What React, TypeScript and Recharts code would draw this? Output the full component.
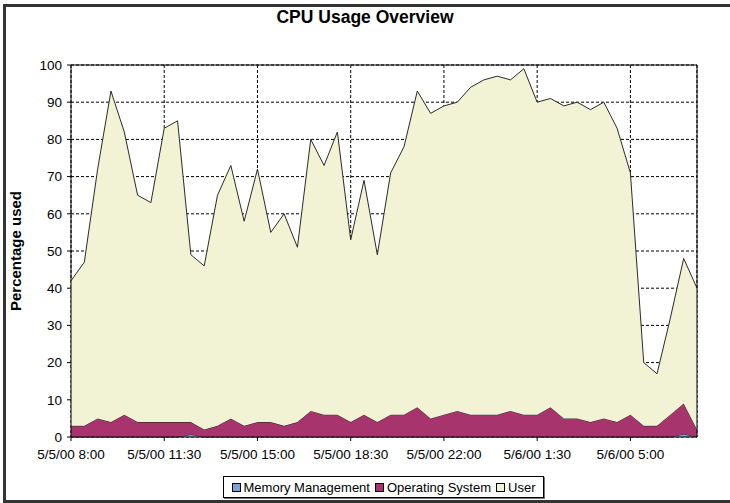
import { AreaChart, Area, XAxis, YAxis, CartesianGrid, Legend, ReferenceLine } from "recharts"

const times = [
  "5/5/00 8:00", "5/5/00 8:30", "5/5/00 9:00", "5/5/00 9:30", "5/5/00 10:00", "5/5/00 10:30",
  "5/5/00 11:00", "5/5/00 11:30", "5/5/00 12:00", "5/5/00 12:30", "5/5/00 13:00", "5/5/00 13:30",
  "5/5/00 14:00", "5/5/00 14:30", "5/5/00 15:00", "5/5/00 15:30", "5/5/00 16:00", "5/5/00 16:30",
  "5/5/00 17:00", "5/5/00 17:30", "5/5/00 18:00", "5/5/00 18:30", "5/5/00 19:00", "5/5/00 19:30",
  "5/5/00 20:00", "5/5/00 20:30", "5/5/00 21:00", "5/5/00 21:30", "5/5/00 22:00", "5/5/00 22:30",
  "5/5/00 23:00", "5/5/00 23:30", "5/6/00 0:00", "5/6/00 0:30", "5/6/00 1:00", "5/6/00 1:30",
  "5/6/00 2:00", "5/6/00 2:30", "5/6/00 3:00", "5/6/00 3:30", "5/6/00 4:00", "5/6/00 4:30",
  "5/6/00 5:00", "5/6/00 5:30", "5/6/00 6:00", "5/6/00 6:30", "5/6/00 7:00", "5/6/00 7:30",
]

const memory = [
  0, 0, 0, 0, 0, 0, 0, 0, 0, 0.7, 0, 0,
  0, 0, 0, 0, 0, 0, 0, 0, 0, 0, 0, 0,
  0, 0, 0, 0, 0, 0, 0, 0, 0, 0, 0, 0,
  0, 0, 0, 0, 0, 0, 0, 0, 0, 0, 0.8, 0,
]

const operatingSystem = [
  3, 3, 5, 4, 6, 4, 4, 4, 4, 3.3, 2, 3,
  5, 3, 4, 4, 3, 4, 7, 6, 6, 4, 6, 4,
  6, 6, 8, 5, 6, 7, 6, 6, 6, 7, 6, 6,
  8, 5, 5, 4, 5, 4, 6, 3, 3, 6, 8.2, 2,
]

const user = [
  39, 44, 67, 89, 76, 61, 59, 79, 81, 45, 44, 62,
  68, 55, 68, 51, 57, 47, 73, 67, 76, 49, 63, 45,
  65, 72, 85, 82, 83, 83, 88, 90, 91, 89, 93, 84,
  83, 84, 85, 84, 85, 79, 65, 17, 14, 26, 39, 38,
]

const yTicks = [0, 10, 20, 30, 40, 50, 60, 70, 80, 90, 100]

const series = [
  { key: "memory", name: "Memory Management", color: "#7aa2d8" },
  { key: "os", name: "Operating System", color: "#a7346c" },
  { key: "user", name: "User", color: "#f2f2d4" },
]

const data = times.map((t, i) => ({
  time: t,
  memory: memory[i],
  os: operatingSystem[i],
  user: user[i],
}))

const font = "'Liberation Sans', Arial, sans-serif"

const LegendBox = () => (
  <div
    style={{
      border: "1px solid #000",
      boxShadow: "1px 1px 0 #777",
      background: "#fff",
      height: 22,
      boxSizing: "border-box",
      display: "flex",
      alignItems: "center",
      justifyContent: "center",
      gap: 5,
      fontFamily: font,
      fontSize: 13,
      color: "#000",
      whiteSpace: "nowrap",
    }}
  >
    {series.map((s) => (
      <span key={s.key} style={{ display: "flex", alignItems: "center" }}>
        <span
          style={{
            display: "inline-block",
            width: 7,
            height: 7,
            border: "1px solid #000",
            background: s.color,
            marginRight: 3,
          }}
        />
        {s.name}
      </span>
    ))}
  </div>
)

const YLabel = (props: any) => {
  const { viewBox } = props
  const x = viewBox.x + 21
  const y = viewBox.y + viewBox.height / 2
  return (
    <text
      x={x}
      y={y}
      transform={`rotate(-90 ${x} ${y})`}
      textAnchor="middle"
      fontFamily={font}
      fontSize={15}
      fontWeight="bold"
      fill="#000"
    >
      Percentage used
    </text>
  )
}

const App = () => {
  return (
    <div style={{ position: "absolute", left: 0, top: 0, width: 730, height: 503, overflow: "hidden", background: "#fff" }}>
      <div
        style={{
          position: "absolute",
          left: 3,
          top: 4,
          width: 800,
          height: 499,
          border: "3px solid #333",
          boxSizing: "border-box",
        }}
      />
      <div
        style={{
          position: "absolute",
          left: 0,
          top: 7,
          width: 730,
          textAlign: "center",
          fontFamily: font,
          fontWeight: "bold",
          fontSize: 17.5,
          lineHeight: "20px",
        }}
      >
        CPU Usage Overview
      </div>
      <div style={{ position: "absolute", left: 0, top: 0 }}>
        <AreaChart width={730} height={503} data={data} margin={{ top: 65, right: 33, left: 0, bottom: 0 }}>
          <CartesianGrid stroke="#000" strokeDasharray="3 2" />
          <XAxis
            dataKey="time"
            interval={6}
            height={66}
            tickSize={4}
            tickMargin={8}
            tick={{ fill: "#000", fontSize: 13.5, fontFamily: font }}
            axisLine={{ stroke: "#000" }}
            tickLine={{ stroke: "#000" }}
          />
          <YAxis
            type="number"
            domain={[0, 100]}
            ticks={yTicks}
            interval={0}
            width={71}
            tickSize={4}
            tickMargin={5}
            tick={{ fill: "#000", fontSize: 13.5, fontFamily: font }}
            axisLine={{ stroke: "#000" }}
            tickLine={{ stroke: "#000" }}
            label={<YLabel />}
          />
          {series.map((s) => (
            <Area
              key={s.key}
              type="linear"
              dataKey={s.key}
              name={s.name}
              stackId="cpu"
              fill={s.color}
              fillOpacity={1}
              stroke="#2a2a2a"
              strokeWidth={1}
              dot={false}
              activeDot={false}
              isAnimationActive={false}
            />
          ))}
          <ReferenceLine y={100} stroke="#000" />
          <ReferenceLine x={times[times.length - 1]} stroke="#000" />
          <Legend
            layout="horizontal"
            verticalAlign="middle"
            align="center"
            content={<LegendBox />}
            wrapperStyle={{ left: 223, top: 476, width: 321, height: 22 }}
          />
        </AreaChart>
      </div>
    </div>
  )
}

export default App
